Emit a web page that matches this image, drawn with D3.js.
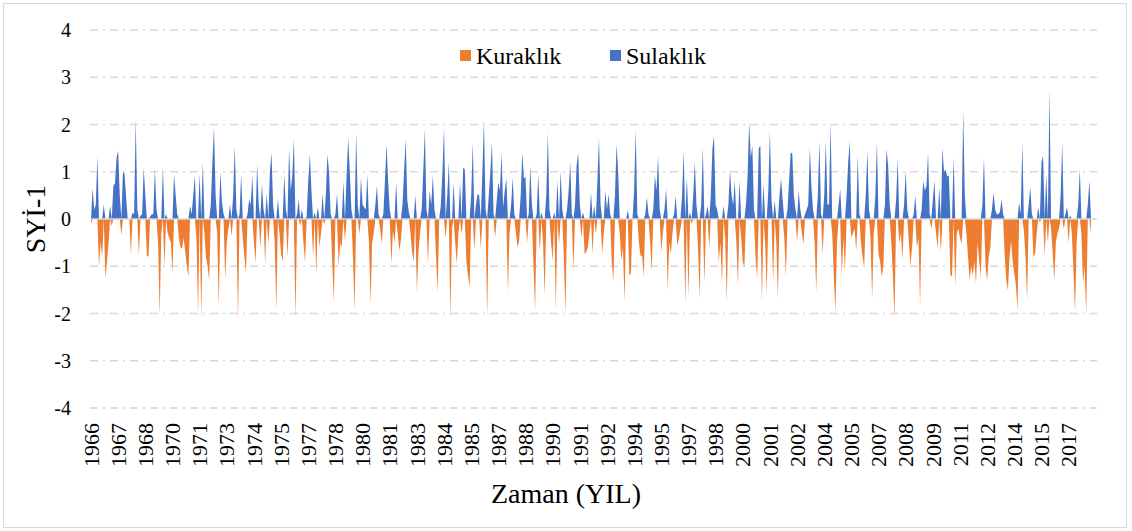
<!DOCTYPE html>
<html><head><meta charset="utf-8">
<script src="https://cdn.jsdelivr.net/npm/d3@7/dist/d3.min.js"></script>
<style>
html,body{margin:0;padding:0;background:#fff;}
</style></head>
<body>
<svg id="chart" width="1132" height="531" font-family="'Liberation Serif', 'Times New Roman', Times, serif"></svg>
<script>
// Monthly SPI-1 values (Jan 1966 onward)
const spi1966_1975 = [
-0.1,0.65,0.2,0.3,1.32,-1.0,-0.5,-0.8,0.3,-1.27,-0.9,-0.5,
0.28,-0.15,0.7,0.75,1.3,1.44,0.5,-0.35,1.0,0.95,0.45,0,
0,-0.75,0.14,0.1,2.1,0.2,-0.78,0.07,0.1,1.08,0.5,-0.78,
-0.8,0.05,0.1,0.1,1.06,0.2,-0.5,-2.05,-0.3,1.1,-1.0,0.1,
-0.3,-0.4,-0.5,-1.15,0.95,0.5,0.1,-0.4,-0.6,-0.63,-0.4,-0.7,
-1.0,-1.23,0.28,0.1,0.5,0.92,-0.4,-2.0,0.95,-2.1,1.2,-0.3,
-0.8,-1.0,-1.3,0.3,1.2,1.94,0.5,-0.3,-1.87,1.0,0.35,0.1,
-1.27,-0.5,-0.2,0.3,-0.35,0.5,1.55,0.2,-2.15,0.1,0.95,-0.4,
-0.8,-1.13,0.1,0.42,0.3,0.92,-0.5,-0.92,1.15,0.3,-0.6,0.74,
0.2,-0.95,0.53,-0.53,1.0,1.4,0.3,-0.5,-1.94,0.42,-0.3,-0.74
];
const spi1976_1985 = [
-0.9,0.95,0.2,-0.8,1.5,0.6,0.9,1.7,-2.1,0.1,0.42,-0.14,
0.2,-0.5,-0.92,0.05,0.8,1.37,0.6,-0.8,0.14,-1.16,0.25,-0.6,
-0.3,0.53,-0.1,0.5,1.37,1.0,0.1,-0.9,-1.76,0.1,0.53,-0.99,
-0.5,-0.6,0.8,-0.46,0.9,1.72,1.0,0.2,-0.8,-1.94,1.83,0.3,
-0.32,0.88,0.3,0.25,0.2,0.95,-0.5,-1.8,-0.5,-0.3,0.3,0.7,
0.1,-0.2,-0.53,0.1,0.8,1.58,0.8,0.2,-0.95,-0.25,-0.5,0.77,
-0.3,-0.67,-0.45,0.3,1.0,1.69,0.4,0.14,-0.3,-0.7,-0.9,0.5,
-1.55,-0.7,-0.3,0.2,1.0,1.9,0.2,-0.95,0.6,0.3,0.92,0.2,
-0.8,-1.55,0.0,0.3,1.0,1.94,-0.39,0.5,1.2,-2.1,-0.2,0.77,
-0.5,-0.95,-0.3,0.77,-0.32,1.09,1.05,-0.9,-1.2,-1.44,0.5,1.62
];
const spi1986_1995 = [
-0.67,0.3,0.53,0.5,-0.63,1.0,2.08,0.2,-2.08,0.5,1.0,1.62,
0.1,-0.39,0.4,0.77,0.6,1.4,0.25,0.6,0.85,-1.55,-0.3,0.3,
0.88,0.1,-0.3,-0.6,-0.46,0.5,1.4,0.85,0.9,-0.5,0.1,1.13,
0.3,-1.0,-1.94,0.1,0.95,-0.67,0.14,-0.5,-1.62,0.5,1.83,0.2,
-0.5,-0.88,0.14,-1.94,0.81,-0.53,1.02,0.2,-0.8,-2.0,0.2,0.6,
1.2,0.1,-1.09,0.3,1.13,1.4,0.3,-0.39,0.14,-0.74,-0.7,-0.6,
-0.3,0.56,-0.74,0.28,-0.32,0.8,1.72,0.3,-0.74,-0.3,0.6,0.2,
0.53,0.1,-0.92,-1.3,0.5,1.58,1.0,-0.3,-0.88,-0.6,-1.76,0.0,
0.18,-1.2,-1.15,0.0,0.6,1.9,0.1,-0.5,-0.78,-0.78,-1.23,0.1,
0.46,0.1,-0.5,-1.09,0.2,0.92,0.6,1.34,0.2,-0.7,-0.3,0.2
];
const spi1996_2005 = [
0.63,-1.51,-0.5,-0.74,-0.3,0.1,0.49,-0.56,-0.42,-0.2,0.5,1.44,
-1.8,0.88,-1.65,0.14,-0.1,0.5,1.2,0.3,-0.6,-1.69,0.3,1.51,
-1.37,0.1,0.28,-0.6,0.5,1.48,1.76,0.3,0.2,-0.92,-0.5,-1.37,
0.28,-0.4,-1.76,0.3,1.02,0.5,0.3,0.81,-0.5,-1.4,0.81,-0.4,
-0.9,-1.02,0.3,0.9,2.04,1.3,1.55,0.2,-0.8,-1.27,1.5,1.55,
-1.76,0.74,-0.5,-1.58,0.6,1.87,0.4,-1.34,0.39,-0.5,-1.69,0.5,
0.85,0.39,-0.4,-1.2,0.2,0.8,1.41,1.38,0.5,0.2,-0.49,0.6,
0.2,-0.3,-0.53,0.1,0.2,0.3,1.51,0.67,0.2,-0.5,-1.55,0.5,
1.65,0.1,-0.74,0.5,1.65,0.3,0.32,2.04,-0.3,-1.2,-1.97,-0.5,
0.3,0.63,-1.2,-0.4,-1.09,0.5,1.2,1.65,-0.39,-0.3,-0.2,-0.67
];
const spi2006_2018 = [
1.34,0.1,-0.5,-0.8,-1.02,0.5,1.44,0.2,-0.42,-1.69,-0.3,0.5,
1.62,-0.74,-0.9,-1.23,-1.0,0.3,1.48,1.13,0.3,-0.5,-1.2,-2.1,
0.4,1.27,-0.5,-0.3,-0.85,0.3,1.02,0.2,-0.5,-0.99,-0.6,0.1,
0.49,-0.6,-0.4,-1.83,0.2,0.81,0.6,0.7,1.41,0.1,-0.21,0.4,
0.81,-0.3,-0.63,0.67,-0.7,1.51,0.99,1.05,0.9,0.92,-1.2,-1.2,
1.3,-1.44,-0.3,-0.2,-0.4,-0.53,2.29,0.5,-0.3,-0.8,-1.3,-1.0,
-1.2,-0.9,-1.37,-0.5,-0.9,-1.23,0.3,1.3,-1.0,-1.3,-0.8,-0.6,
0.2,0.56,0.2,0.1,0.1,0.15,0.42,0.1,-0.8,-1.3,-1.51,-0.8,
-0.46,-0.9,-1.16,-1.4,-1.94,0.35,0.1,1.62,-0.25,-0.8,-1.72,0.3,
0.67,0.1,-0.81,-0.74,-0.3,0.25,-0.07,1.2,1.34,-0.78,0.95,-0.5,
2.75,-0.2,-0.7,-1.3,-0.5,-0.3,-0.2,0.5,1.62,-0.21,0.1,0.25,
-0.5,0.07,-0.3,-1.09,-1.97,-0.5,0.3,1.06,-0.3,-1.37,-1.0,-2.04,
0.3,0.81,-0.32
];
const yearLabels = ["1966","1967","1968","1970","1971","1973","1974","1975","1977","1978","1980","1981","1983","1984","1985","1987","1988","1990","1991","1992","1994","1995","1997","1998","2000","2001","2002","2004","2005","2007","2008","2009","2011","2012","2014","2015","2017"];
const labelStep = 17; // one label every 17 months
const yTicks = [-4,-3,-2,-1,0,1,2,3,4];
const seriesNames = ["Kuraklık","Sulaklık"];
const colors = {"Kuraklık":"#ED7D31","Sulaklık":"#4472C4"};

const spi = [].concat(spi1966_1975, spi1976_1985, spi1986_1995, spi1996_2005, spi2006_2018);
const kuraklik = spi.map(v => Math.min(v, 0));
const sulaklik = spi.map(v => Math.max(v, 0));

const svg = d3.select("#chart");
const L = 90, R = 1097, T = 30, B = 408;
const FONT = "'Liberation Serif', 'Times New Roman', Times, serif";

svg.append("rect").attr("x",3.5).attr("y",3.5).attr("width",1123).attr("height",524)
  .attr("fill","#fff").attr("stroke","#d9d9d9").attr("stroke-width",1);

const x = d3.scalePoint().domain(d3.range(spi.length)).range([L + 1, 1091]);
const y = d3.scaleLinear().domain([-4, 4]).range([B, T]);

svg.append("g").selectAll("line").data(yTicks.filter(d => d !== 0)).join("line")
  .attr("x1", L).attr("x2", R).attr("y1", d => y(d)).attr("y2", d => y(d))
  .attr("stroke", "#d9d9d9").attr("stroke-width", 1.3).attr("stroke-dasharray", "8,5,2,5");

const area = vals => d3.area().x((d, i) => x(i)).y0(y(0)).y1(d => y(d))(vals);
svg.append("path").attr("d", area(kuraklik)).attr("fill", colors["Kuraklık"]);
svg.append("path").attr("d", area(sulaklik)).attr("fill", colors["Sulaklık"]);

svg.append("line").attr("x1", L).attr("x2", R).attr("y1", y(0)).attr("y2", y(0))
  .attr("stroke", "#d9d9d9").attr("stroke-width", 1.5);

svg.append("g").selectAll("text").data(yTicks).join("text")
  .attr("x", 71).attr("y", d => y(d)).attr("dy", "0.35em")
  .attr("text-anchor", "end").style("font-family", FONT).style("font-size", "20px").text(d => d);

svg.append("g").selectAll("text").data(yearLabels).join("text")
  .attr("transform", (d, i) => `translate(${x(i * labelStep)},423) rotate(-90)`)
  .attr("dy", "0.35em").attr("text-anchor", "end").style("font-family", FONT).style("font-size", "22px").text(d => d);

svg.append("text").attr("transform", "translate(35,219) rotate(-90)")
  .attr("text-anchor", "middle").attr("dy","0.35em").style("font-family", FONT).style("font-size", "28px").text("SYİ-1");
svg.append("text").attr("x", 566).attr("y", 503)
  .attr("text-anchor", "middle").style("font-family", FONT).style("font-size", "28px").text("Zaman (YIL)");

const lg = svg.append("g");
const legendX = [460, 610];
seriesNames.forEach((n, i) => {
  lg.append("rect").attr("x", legendX[i]).attr("y", 50).attr("width", 11).attr("height", 11).attr("fill", colors[n]);
  lg.append("text").attr("x", legendX[i] + 16).attr("y", 64).style("font-family", FONT).style("font-size", "24px").text(n);
});
</script>
</body></html>
